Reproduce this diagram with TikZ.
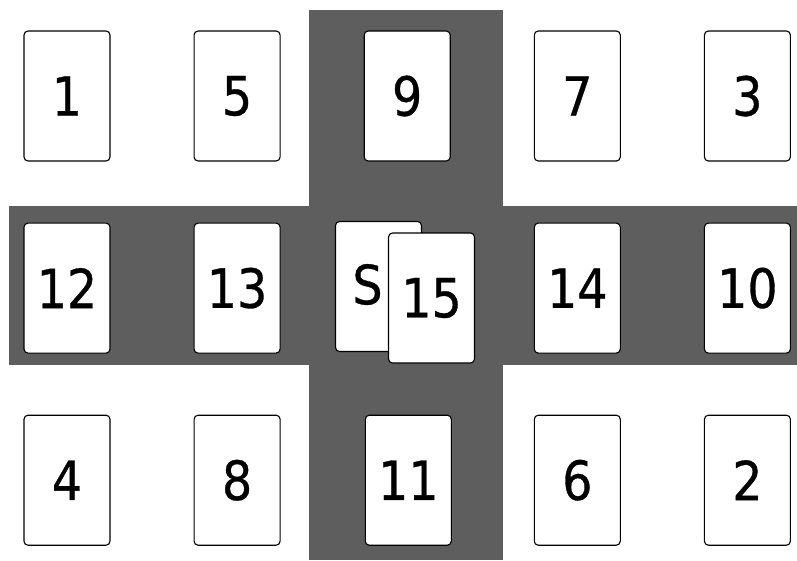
\documentclass[tikz,border=0pt]{standalone}
\usepackage{fontspec}
\newfontfamily\cardfont[FakeStretch=0.88,FakeBold=0.6]{DejaVu Sans}
\usetikzlibrary{positioning}
\definecolor{bandgray}{gray}{0.37}
\tikzset{card/.style={draw,fill=white,rounded corners=4pt,line width=1.1pt,
    minimum width=86pt,minimum height=130pt,inner sep=0pt,
    font=\cardfont\fontsize{54}{60}\selectfont},
  cardtext/.style={inner sep=0pt,font=\cardfont\fontsize{54}{60}\selectfont}}

\begin{document}
\begin{tikzpicture}[x=1pt,y=-1pt]
\useasboundingbox (0,0) rectangle (797,560);
% grey cross
\fill[bandgray] (309,10) rectangle (503,560);
\fill[bandgray] (9,206) rectangle (797,365);
% top row
\node[card] (c1) at (67,96) {1};
\node[card,right=83pt of c1] (c5) {5};
\node[card,right=83pt of c5] (c9) {9};
\node[card,right=83pt of c9] (c7) {7};
\node[card,right=83pt of c7] (c3) {3};
% middle row
\node[card,below=61pt of c1] (c12) {12};
\node[card,below=61pt of c5] (c13) {13};
\node[card,below=61pt of c7] (c14) {14};
\node[card,below=61pt of c3] (c10) {10};
\node[card] (cS) at (378.5,286.5) {};
\node[cardtext] (tS) at ([xshift=-11pt,yshift=2pt]cS.center) {S};
\node[card] (c15) at (431.5,298) {15};
% bottom row
\node[card,below=61pt of c12] (c4) {4};
\node[card,below=61pt of c13] (c8) {8};
\node[card,below=61pt of c14,xshift=-169pt] (c11) {11};
\node[card,below=61pt of c14] (c6) {6};
\node[card,below=61pt of c10] (c2) {2};
\end{tikzpicture}
\end{document}
